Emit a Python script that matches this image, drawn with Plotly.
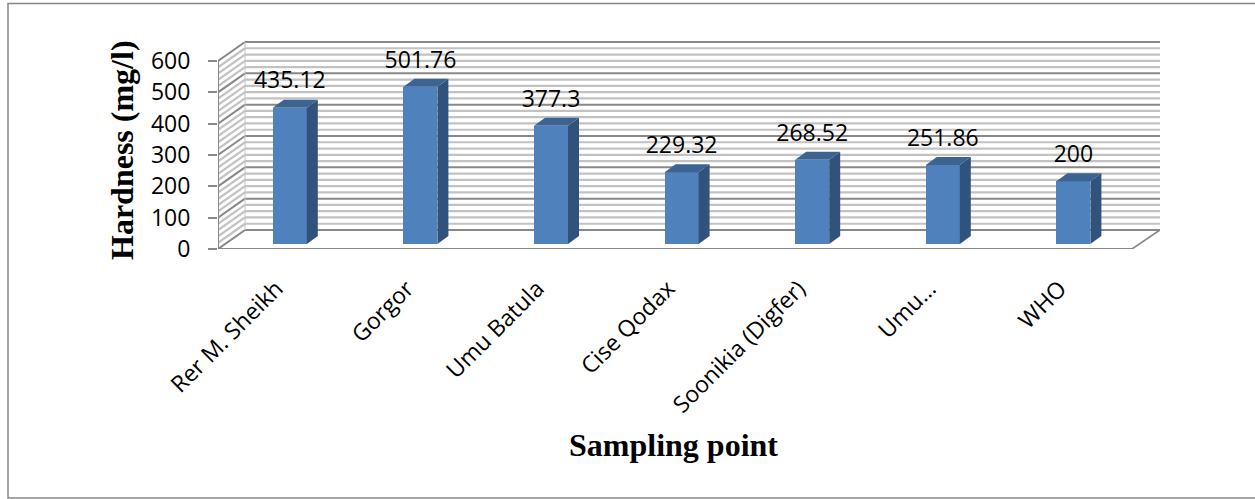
import plotly.graph_objects as go

# Hardness readings per sampling point
categories = ["Rer M. Sheikh", "Gorgor", "Umu Batula", "Cise Qodax",
              "Soonikia (Digfer)", "Umu…", "WHO"]
hardness = [435.12, 501.76, 377.3, 229.32, 268.52, 251.86, 200]
value_labels = ["435.12", "501.76", "377.3", "229.32", "268.52", "251.86", "200"]
major_ticks = [0, 100, 200, 300, 400, 500, 600]
minor_ticks = [v for v in range(0, 601, 20) if v % 100]

# Canvas and plot box, in pixels
W, H = 1255, 499
LEFT, RIGHT, TOP, BOTTOM = 218, 1160, 38, 249
PX_PER_CAT = 130.6
PX_PER_UNIT = 188 / 600

def cat_len(px):
    return px / PX_PER_CAT

def val_len(px):
    return px / PX_PER_UNIT

def paper_x(px):
    return (px - LEFT) / (RIGHT - LEFT)

def paper_y(px):
    return (BOTTOM - px) / (BOTTOM - TOP)

# Oblique projection offsets for walls and bars, in axis units
wall_dx, wall_dy = cat_len(27), val_len(19)
bar_dx, bar_dy = cat_len(11), val_len(8)
bar_shift, bar_base = cat_len(6.5), val_len(5)
bar_width = cat_len(34)
label_shift = cat_len(7)

x0 = -0.5
x_front_end = x0 + cat_len(914)
x_range = [x0, x0 + cat_len(RIGHT - LEFT)]
y_range = [0, val_len(BOTTOM - TOP)]

MAJOR, MINOR = "#888888", "#c2c2c2"

def seg(xa, ya, xb, yb, color, width):
    return dict(type="line", xref="x", yref="y", x0=xa, y0=ya, x1=xb, y1=yb,
                line=dict(color=color, width=width), layer="below")

def wall_lines(level, color, width):
    # One gridline folded across the side wall and the back wall
    return [
        seg(x0, level, x0 + wall_dx, level + wall_dy, color, width),
        seg(x0 + wall_dx, level + wall_dy, x_range[1], level + wall_dy, color, width),
    ]

shapes = []
for v in minor_ticks:
    shapes += wall_lines(v, MINOR, 2.2)
for v in major_ticks:
    shapes += wall_lines(v, MAJOR, 2)

# Back wall edge and the right side of the floor
shapes += [
    seg(x0 + wall_dx, wall_dy, x0 + wall_dx, 600 + wall_dy, MINOR, 1),
    seg(x_front_end, 0, x_range[1], wall_dy, MAJOR, 1.6),
]

# Outer chart frame, open on the right where it runs off the canvas
shapes.append(dict(type="rect", xref="paper", yref="paper",
                   x0=paper_x(8), x1=paper_x(1265),
                   y0=paper_y(498), y1=paper_y(3.5),
                   line=dict(color="#868686", width=1.5), layer="below"))

fig = go.Figure()

centers = [i + bar_shift for i in range(len(categories))]

fig.add_trace(go.Bar(
    x=centers, y=hardness, base=bar_base, width=bar_width,
    marker=dict(color="#4F81BD", line=dict(width=0)),
    showlegend=False, hoverinfo="skip",
))

# Side and top faces of every bar
for c, v in zip(centers, hardness):
    right = c + bar_width / 2
    left = c - bar_width / 2
    top = v + bar_base
    fig.add_trace(go.Scatter(
        x=[right, right + bar_dx, right + bar_dx, right, right],
        y=[bar_base, bar_base + bar_dy, top + bar_dy, top, bar_base],
        mode="lines", fill="toself", fillcolor="#31527B",
        line=dict(width=0), showlegend=False, hoverinfo="skip",
    ))
    fig.add_trace(go.Scatter(
        x=[left, left + bar_dx, right + bar_dx, right, left],
        y=[top, top + bar_dy, top + bar_dy, top, top],
        mode="lines", fill="toself", fillcolor="#3C6391",
        line=dict(width=0), showlegend=False, hoverinfo="skip",
    ))

# Value axis and front floor edge, kept whole on the plot border
fig.add_trace(go.Scatter(
    x=[x0, x0, x_front_end], y=[600, 0, 0], mode="lines", cliponaxis=False,
    line=dict(color=MAJOR, width=2), showlegend=False, hoverinfo="skip",
))

# Value labels above the bars
fig.add_trace(go.Scatter(
    x=centers, y=[v + val_len(30) for v in hardness],
    mode="text", text=value_labels, textposition="middle center",
    textfont=dict(family="Open Sans", size=23, color="black"),
    showlegend=False, hoverinfo="skip",
))

fig.update_layout(
    width=W, height=H, autosize=False,
    margin=dict(l=LEFT, r=W - RIGHT, t=TOP, b=H - BOTTOM, pad=0),
    paper_bgcolor="white", plot_bgcolor="white",
    bargap=0, shapes=shapes,
    annotations=[
        dict(text="<b>Hardness (mg/l)</b>", xref="paper", yref="paper",
             x=paper_x(122), y=paper_y(150),
             xanchor="center", yanchor="middle", textangle=-90, showarrow=False,
             font=dict(family="Liberation Serif", size=32, color="black")),
        dict(text="<b>Sampling point</b>", xref="paper", yref="paper",
             x=paper_x(673), y=paper_y(445),
             xanchor="center", yanchor="middle", showarrow=False,
             font=dict(family="Liberation Serif", size=32, color="black")),
    ],
)
fig.update_xaxes(
    range=x_range, tickmode="array",
    tickvals=[i - label_shift for i in range(len(categories))], ticktext=categories,
    tickangle=-45, ticks="outside", ticklen=16, tickcolor="rgba(0,0,0,0)",
    tickfont=dict(family="Open Sans", size=23, color="black"),
    showgrid=False, zeroline=False, showline=False,
)
fig.update_yaxes(
    range=y_range, tickmode="array", tickvals=major_ticks,
    ticks="outside", ticklen=9, tickcolor=MAJOR, tickwidth=1.5,
    ticklabelstandoff=13,
    tickfont=dict(family="Open Sans", size=23, color="black"),
    showgrid=False, zeroline=False, showline=False,
)

fig.write_html("out.html")
